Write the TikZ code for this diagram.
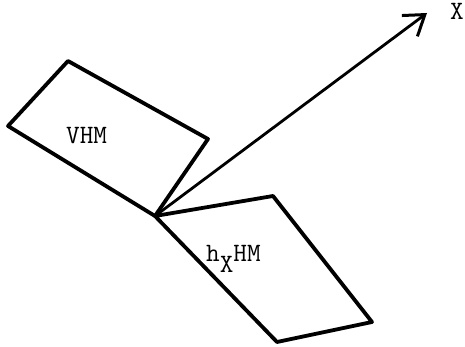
\documentclass[tikz,border=0pt]{standalone}
\usetikzlibrary{arrows.meta}
\begin{document}
\begin{tikzpicture}[x=1pt,y=-1pt,
  plane/.style={line width=3.8pt,line join=round,line cap=round},
  vec/.style={line width=2.8pt,-{Straight Barb[length=19pt,width=26pt,line width=3pt]}},
  lbl/.style={inner sep=0pt,font=\ttfamily\fontsize{26.5}{28}\selectfont}]
\useasboundingbox (0,0) rectangle (465,347);
% common corner of both planes
\coordinate (O) at (155,216);
% plane VHM
\coordinate (A1) at (8,126);
\coordinate (A2) at (68,61);
\coordinate (A3) at (208,139);
% plane h_X HM
\coordinate (B1) at (273,196);
\coordinate (B2) at (372,322);
\coordinate (B3) at (277,342);
% direction X
\coordinate (T) at (427,13);
\draw[plane] (O) -- (A1) -- (A2) -- (A3) -- cycle;
\draw[plane] (O) -- (B1) -- (B2) -- (B3) -- cycle;
\draw[vec] (O) -- (T);
\node[lbl,anchor=base west] (v) at (66,143.5) {VHM};
\node[lbl,anchor=base west] (h) at (206,261) {h\raisebox{-11pt}{X}HM};
\node[lbl,anchor=base west] (x) at (450,20) {X};
\end{tikzpicture}
\end{document}
